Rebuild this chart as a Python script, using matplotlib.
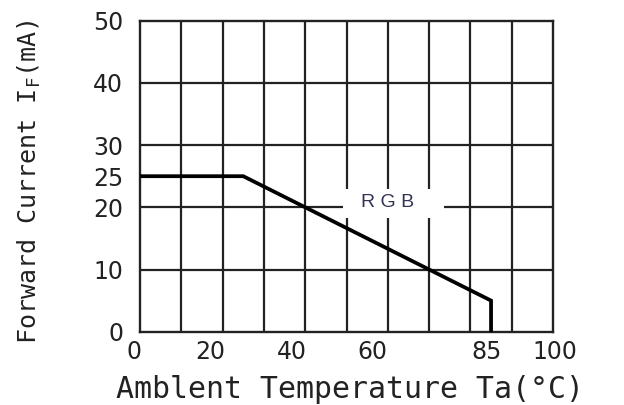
import matplotlib
matplotlib.use("Agg")
import matplotlib.pyplot as plt
from matplotlib.patches import Rectangle
from matplotlib.transforms import ScaledTranslation

plt.rcParams['font.family'] = ['DejaVu Sans Mono', 'DejaVu Sans']
plt.rcParams['mathtext.default'] = 'regular'

# Data (derating curve)
temperature = [0, 25, 85, 85]
forward_current = [25, 25, 5, 0]

x_tick_values = [0, 20, 40, 60, 85, 100]
y_tick_values = [0, 10, 20, 25, 30, 40, 50]
x_grid_values = [10, 20, 30, 40, 50, 60, 70, 80, 90]
y_grid_values = [10, 20, 30, 40]
series_label = "R G B"

fig = plt.figure(figsize=(6.24, 4.05), dpi=100)
ax = fig.add_axes([140/624, 1-331.7/405, 413/624, 311/405])
ax.set_xlim(0, 100)
ax.set_ylim(0, 50)

grid_color = '#222222'
for xv in x_grid_values:
    ax.axvline(xv, color=grid_color, lw=1.6, zorder=1)
for yv in y_grid_values:
    ax.axhline(yv, color=grid_color, lw=1.6, zorder=1)

for s in ax.spines.values():
    s.set_linewidth(1.7)
    s.set_color(grid_color)

ax.plot(temperature, forward_current, color='black', lw=2.7, zorder=4,
        solid_joinstyle='miter')

# white label box covering the grid
ax.add_patch(Rectangle((49.2, 18.2), 24.3, 4.8, facecolor='white',
                       edgecolor='none', zorder=2))
ax.text(60, 20.7, series_label, ha='center', va='center', fontsize=14,
        family='Liberation Sans', color='#333355', zorder=3)

ax.set_xticks(x_tick_values)
ax.set_xticklabels([str(v) for v in x_tick_values], family='DejaVu Sans')
ax.set_yticks(y_tick_values)
ax.set_yticklabels([str(v) for v in y_tick_values], family='DejaVu Sans')
ax.tick_params(length=0, labelsize=17, colors='#222222')
ax.tick_params(axis='x', pad=6)
ax.tick_params(axis='y', pad=12)

x_label_shift_px = [-6, -12, -13, -15, -4, 2]
for lab, dx in zip(ax.get_xticklabels(), x_label_shift_px):
    lab.set_transform(lab.get_transform() + ScaledTranslation(dx/100, 0, fig.dpi_scale_trans))

ax.set_xlabel("Amblent Temperature Ta(°C)", fontsize=21.5, color='#222222', va='center')
ax.xaxis.set_label_coords(0.508, -0.187)
ax.set_ylabel("Forward Current I$_F$(mA)", fontsize=18, color='#222222', va='center')
ax.yaxis.set_label_coords(-0.269, 0.481)

fig.savefig("out.png", dpi=100, facecolor='white')
